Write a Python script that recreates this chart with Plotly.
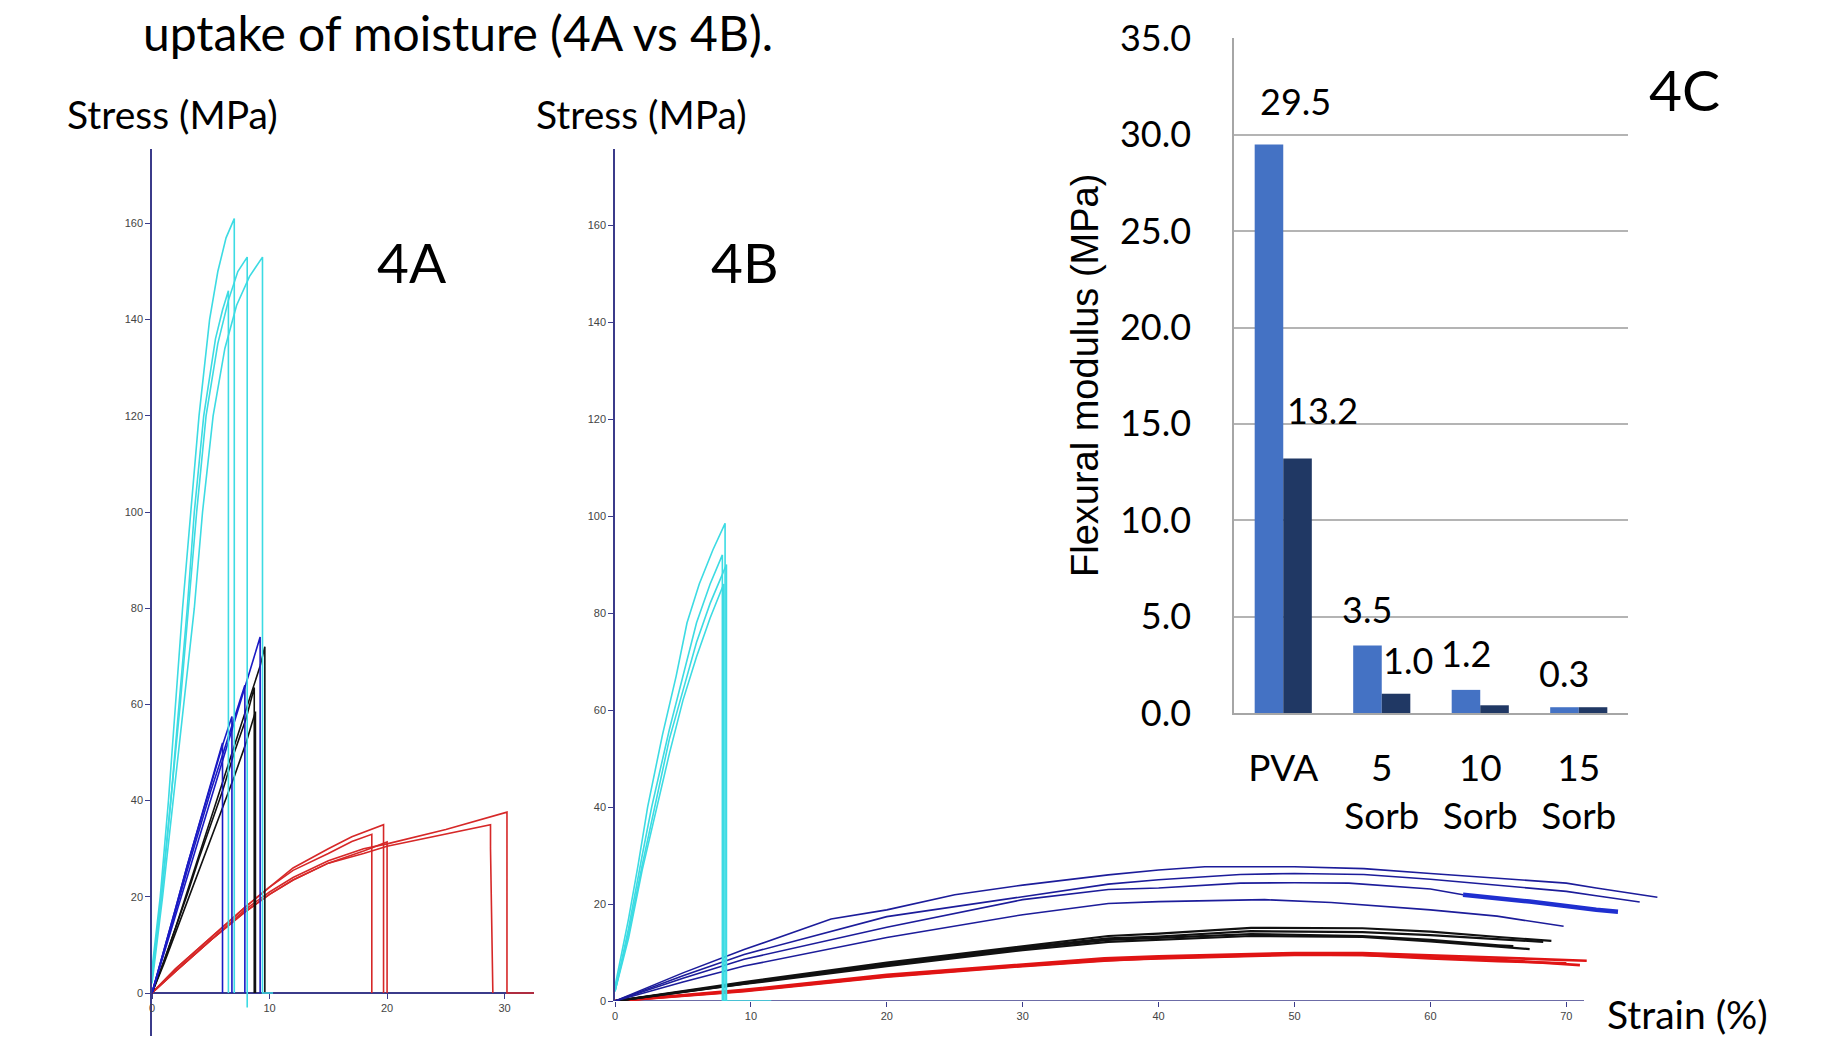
import plotly.graph_objects as go

W, H = 1826, 1045

# ---------------- 4A : dry films, strain (%) vs stress (MPa) ----------------
a_cyan_x = [
    [0, 0.7, 1.4, 2.0, 2.6, 3.3, 4.0, 4.9, 5.6, 6.3, 7.0, 7.0],
    [0, 0.8, 1.6, 2.3, 3.0, 3.6, 4.4, 5.4, 6.0, 6.5, 6.5],
    [0, 0.8, 1.6, 2.4, 3.1, 3.8, 4.6, 5.6, 6.5, 7.3, 8.1, 8.1, 8.1],
    [0, 0.9, 1.8, 2.7, 3.6, 4.3, 5.2, 6.2, 7.2, 8.3, 9.4, 9.4, 10.3],
]
a_cyan_y = [
    [5, 20, 40, 60, 80, 100, 120, 140, 150, 157, 161, 0],
    [4, 20, 40, 60, 80, 100, 120, 136, 142, 146, 0],
    [3, 20, 40, 60, 80, 100, 120, 135, 144, 150, 153, 0, -3],
    [2, 20, 40, 60, 80, 100, 120, 134, 143, 149, 153, 0, 0],
]
a_blue_x = [
    [0, 1, 2, 3, 4, 5, 6, 6.8, 6.8],
    [0, 1, 2, 3, 4, 5, 6, 7, 7.9, 7.9],
    [0, 1, 2, 3, 4, 5, 6, 7, 8, 9.2, 9.2],
    [0, 1, 2, 3, 4, 5, 6, 6.0],
]
a_blue_y = [
    [0, 8.5, 17.5, 26.5, 35, 43.5, 51.5, 57.5, 0],
    [0, 8.3, 17, 25.5, 34, 42, 49.5, 57, 64, 0],
    [0, 8, 16, 24, 32, 40, 48, 56, 64, 74, 0],
    [0, 8.6, 17.5, 26.5, 35, 43.5, 52, 0],
]
a_black_x = [
    [0, 1, 2, 3, 4, 5, 6, 7, 8, 8.7, 8.7],
    [0, 1, 2, 3, 4, 5, 6, 7, 8, 8.8, 8.8],
    [0, 1, 2, 3, 4, 5, 6, 7, 8, 9.2, 9.6, 9.6],
]
a_black_y = [
    [0, 6.5, 13.5, 20.5, 28, 35, 42, 50, 57, 63.5, 0],
    [0, 6, 12.5, 19, 25.5, 32, 38.5, 45, 52, 58.5, 0],
    [0, 6.5, 13.5, 21, 28.5, 36, 43.5, 51, 58.5, 68, 72, 0],
]
a_red_x = [
    [0, 2, 5, 8, 10, 12, 15, 17, 18.7, 18.7],
    [0, 2, 5, 8, 10, 12, 15, 17, 19.7, 19.7],
    [0, 2, 5, 8, 10, 12, 15, 18, 20.0, 20.0],
    [0, 2, 5, 8, 10, 12, 15, 18, 20, 25, 28.8, 28.8, 29.0],
    [0, 2, 5, 8, 10, 12, 15, 18, 20, 25, 30.2, 30.2, 32.5],
]
a_red_y = [
    [0, 5, 11.5, 18, 22, 25.5, 29, 31.5, 33, 0],
    [0, 5, 11.5, 18, 22, 26, 30, 32.5, 35, 0],
    [0, 4.5, 11, 17, 20.5, 23.5, 27, 29.5, 31.4, 0],
    [0, 4.5, 11, 17, 20.5, 23.5, 27, 29, 30.5, 33, 35, 30, 0],
    [0, 4.5, 11, 17.5, 21, 24, 27.5, 30, 31, 34, 37.6, 0, 0],
]

# ---------------- 4B : films after moisture uptake ----------------
b_cyan_x = [
    [0, 0.5, 1.0, 1.7, 2.4, 3.5, 4.5, 5.3, 6.2, 7.2, 8.1, 8.1],
    [0, 1, 2, 2.7, 4, 5, 6, 7, 7.9, 7.9, 11.5],
    [0, 1, 2, 3, 4, 5, 6, 7, 8.2, 8.2],
    [0, 1, 2, 3, 4, 5, 6, 7, 8.0, 8.0],
]
b_cyan_y = [
    [3, 10, 17, 28, 40, 55, 67, 78, 86, 93, 98.5, 0],
    [2, 15, 30, 40, 56, 67, 78, 86, 92, 0, 0],
    [2, 14, 28, 41, 54, 64, 74, 82, 90, 0],
    [2, 13, 27, 39, 51, 62, 71, 79, 86, 0],
]
b_blue_x = [
    [0, 5, 9.5, 15.9, 20, 25, 30, 36.3, 40, 43.4, 50, 55.1, 60, 64.9, 70, 72.2, 76.7],
    [0, 5, 9.5, 20, 30, 36.3, 40, 46, 50, 55.1, 60, 64.9, 70, 72.2, 75.4],
    [0, 5, 9.5, 20, 30, 36.3, 40, 46, 50, 54, 60, 62.4],
    [0, 5, 9.5, 20, 30, 36.3, 40, 47.8, 52.7, 60, 64.9, 69.8],
]
b_blue_y = [
    [0, 5.8, 10.6, 16.9, 18.8, 21.9, 23.9, 26.0, 27.0, 27.7, 27.7, 27.3, 26.3, 25.3, 24.3, 23.3, 21.4],
    [0, 5.2, 9.6, 17.4, 21.5, 24.1, 25.0, 26.1, 26.3, 26.1, 25.1, 23.9, 22.6, 21.7, 20.4],
    [0, 4.7, 8.6, 15.2, 20.9, 23.0, 23.3, 24.3, 24.4, 24.3, 23.1, 21.9],
    [0, 3.9, 7.2, 13.1, 17.8, 20.1, 20.5, 20.9, 20.3, 18.8, 17.5, 15.4],
]
# noisy tail of the third wet-blend curve (drawn as a fuzzy band)
b_blue_noisy_x = [62.4, 67.3, 72.2, 73.8]
b_blue_noisy_y = [21.9, 20.5, 18.8, 18.4]

b_black_x = [
    [0, 9.5, 20, 30, 36.3, 40, 46.8, 55, 60, 65, 68.9],
    [0, 9.5, 20, 30, 36.3, 40, 46.8, 55, 60, 65, 68.3],
    [0, 9.5, 20, 30, 36.3, 40, 46.8, 55, 60, 65, 66.1],
    [0, 9.5, 20, 30, 36.3, 40, 46.8, 55, 60, 65, 67.3],
]
b_black_y = [
    [0, 3.9, 7.9, 11.3, 13.4, 13.9, 15.1, 15.0, 14.3, 13.2, 12.4],
    [0, 3.7, 7.6, 11.0, 12.9, 13.3, 14.4, 14.2, 13.6, 12.8, 12.2],
    [0, 3.6, 7.4, 10.8, 12.6, 13.0, 13.8, 13.4, 12.6, 11.5, 11.3],
    [0, 3.5, 7.2, 10.5, 12.2, 12.6, 13.4, 13.2, 12.3, 11.2, 10.7],
]
b_red_x = [
    [0, 9.5, 20, 30, 36, 40, 50, 55, 60, 65, 71.5],
    [0, 9.5, 20, 30, 36, 40, 50, 55, 60, 65, 71.0],
    [0, 9.5, 20, 30, 36, 40, 50, 55, 60, 65, 70.0],
]
b_red_y = [
    [0, 2.3, 5.4, 7.6, 8.8, 9.2, 9.9, 9.9, 9.4, 8.9, 8.3],
    [0, 2.1, 5.1, 7.3, 8.4, 8.8, 9.5, 9.5, 9.0, 8.5, 7.4],
    [0, 2.0, 5.0, 7.2, 8.3, 8.9, 9.6, 9.5, 8.8, 8.2, 7.8],
]

# strain axis of 4B is drawn only up to this value
b_axis_end = 71.3

# ---------------- 4C : flexural modulus ----------------
categories = ["PVA", "5 Sorb", "10 Sorb", "15 Sorb"]
category_ticktext = ["PVA", "5<br>Sorb", "10<br>Sorb", "15<br>Sorb"]
dry_modulus = [29.5, 3.5, 1.2, 0.3]
wet_modulus = [13.2, 1.0, 0.4, 0.3]
dry_labels = ["29.5", "3.5", "1.2", "0.3"]
wet_labels = ["13.2", "1.0", None, None]

y_ticks_stress = [0, 20, 40, 60, 80, 100, 120, 140, 160]

# ---------------- styles ----------------
AXIS_COL = "#3b3b8a"
CYAN = "#3cdbe3"
BLUE_A = "#1a1ac4"
BLUE_B = "#1c1c9a"
BLUE_NOISY = "#1f2fd0"
RED_A = "#d62828"
RED_B = "#e01414"
TICK_FONT = dict(family="Liberation Sans, Arial", size=11, color="#444444")
CAL = "Lato, Noto Sans, sans-serif"

fig = go.Figure()


def add_group(xs, ys, color, width, xa, ya):
    for x, y in zip(xs, ys):
        fig.add_trace(go.Scatter(x=x, y=y, mode="lines", xaxis=xa, yaxis=ya,
                                 line=dict(color=color, width=width),
                                 showlegend=False, hoverinfo="skip"))


add_group(a_red_x, a_red_y, RED_A, 1.6, "x", "y")
add_group(a_black_x, a_black_y, "#111111", 1.6, "x", "y")
add_group(a_blue_x, a_blue_y, BLUE_A, 1.6, "x", "y")
add_group(a_cyan_x, a_cyan_y, CYAN, 1.6, "x", "y")

add_group(b_red_x, b_red_y, RED_B, 2.6, "x2", "y2")
add_group(b_black_x, b_black_y, "#111111", 2.2, "x2", "y2")
add_group(b_blue_x, b_blue_y, BLUE_B, 1.6, "x2", "y2")
add_group([b_blue_noisy_x], [b_blue_noisy_y], BLUE_NOISY, 4.5, "x2", "y2")
add_group(b_cyan_x, b_cyan_y, CYAN, 1.6, "x2", "y2")

fig.add_trace(go.Bar(x=categories, y=dry_modulus, xaxis="x3", yaxis="y3",
                     marker=dict(color="#4472C4", line=dict(width=0)),
                     showlegend=False, name="dry"))
fig.add_trace(go.Bar(x=categories, y=wet_modulus, xaxis="x3", yaxis="y3",
                     marker=dict(color="#203864", line=dict(width=0)),
                     showlegend=False, name="wet"))

stress_axis = dict(showline=True, linecolor=AXIS_COL, linewidth=1.5,
                   ticks="outside", ticklen=5, tickcolor=AXIS_COL, tickwidth=1.2,
                   tickfont=TICK_FONT, showgrid=False, zeroline=False,
                   layer="below traces", automargin=False)


def px_x(p):
    return p / W


def px_y(p):
    return 1 - p / H


annotations = []
# bar value labels
dry_dx = [27, 0, 0, 0]
dry_dy = [43, 37, 37, 34]
wet_dx = [25, 12, 0, 0]
wet_dy = [49, 34, 34, 34]
half_bar = 14.3
for cat, v, lab, dx, dy in zip(categories, dry_modulus, dry_labels, dry_dx, dry_dy):
    if lab:
        annotations.append(dict(x=cat, y=v, xref="x3", yref="y3", text=lab, showarrow=False,
                                xshift=-half_bar + dx, yshift=dy,
                                font=dict(family=CAL, size=36, color="black")))
for cat, v, lab, dx, dy in zip(categories, wet_modulus, wet_labels, wet_dx, wet_dy):
    if lab:
        annotations.append(dict(x=cat, y=v, xref="x3", yref="y3", text=lab, showarrow=False,
                                xshift=half_bar + dx, yshift=dy,
                                font=dict(family=CAL, size=36, color="black")))

texts = [
    ("uptake of moisture (4A vs 4B).", 141, 2, 48, "left", "top"),
    ("Stress (MPa)", 65, 114, 39, "left", "middle"),
    ("Stress (MPa)", 534, 114, 39, "left", "middle"),
    ("4A", 412, 262, 55, "center", "middle"),
    ("4B", 744, 262, 55, "center", "middle"),
    ("4C", 1684, 89, 57, "center", "middle"),
    ("Strain (%)", 1605, 1014, 39, "left", "middle"),
]
for t, x, y, s, anc, vanc in texts:
    annotations.append(dict(text=t, x=px_x(x), y=px_y(y), xref="paper", yref="paper",
                            xanchor=anc, yanchor=vanc, showarrow=False,
                            font=dict(family=CAL, size=s, color="black")))

annotations.append(dict(text="Flexural modulus (MPa)", x=px_x(1085), y=px_y(376),
                        xref="paper", yref="paper", textangle=-90, showarrow=False,
                        xanchor="center", yanchor="middle",
                        font=dict(family="Liberation Sans, Arial", size=38, color="black")))

# 4B: px per % strain; extend the plotting range so long curves are not clipped
b_px_per_unit = (1584 - 615) / b_axis_end
b_range_end = 78.5
b_right_px = 615 + b_px_per_unit * b_range_end

fig.update_layout(
    width=W, height=H,
    margin=dict(l=0, r=0, t=0, b=0, pad=0, autoexpand=False),
    paper_bgcolor="white", plot_bgcolor="rgba(0,0,0,0)",
    barmode="group", bargap=0.42, bargroupgap=0,
    xaxis=dict(stress_axis, domain=[px_x(152), px_x(534)], range=[0, 32.5], dtick=10,
               anchor="free", position=px_y(993)),
    yaxis=dict(stress_axis, domain=[px_y(1036), px_y(149)], range=[-8.94, 175.47],
               tickvals=y_ticks_stress, anchor="x"),
    xaxis2=dict(stress_axis, domain=[px_x(615), px_x(b_right_px)], range=[0, b_range_end],
                tickvals=[0, 10, 20, 30, 40, 50, 60, 70], anchor="y2", showline=False),
    yaxis2=dict(stress_axis, domain=[px_y(1001), px_y(149)], range=[0, 175.7],
                tickvals=y_ticks_stress, anchor="x2"),
    xaxis3=dict(domain=[px_x(1234), px_x(1628)], anchor="y3", type="category",
                tickvals=categories, ticktext=category_ticktext,
                showline=True, linecolor="#a6a6a6", linewidth=1.5, ticks="",
                ticklabelstandoff=22, automargin=False,
                tickfont=dict(family=CAL, size=37, color="black"), showgrid=False),
    yaxis3=dict(domain=[px_y(713), px_y(38.4)], anchor="x3", range=[0, 35], dtick=5,
                tickformat=".1f", showline=True, linecolor="#a6a6a6", linewidth=1.5,
                showgrid=True, gridcolor="#b4b4b4", gridwidth=1.5, zeroline=False,
                ticks="", ticklabelstandoff=34, automargin=False,
                tickfont=dict(family=CAL, size=36, color="black")),
    shapes=[dict(type="line", xref="x2", yref="y2", x0=0, x1=b_axis_end, y0=0, y1=0,
                 line=dict(color=AXIS_COL, width=1.5), layer="below")],
    annotations=annotations,
)

fig.write_html("out.html")
